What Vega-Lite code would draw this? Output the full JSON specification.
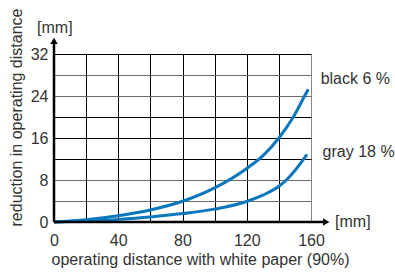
{
  "$schema": "https://vega.github.io/schema/vega-lite/v6.json",
  "width": 257,
  "height": 168,
  "autosize": {"type": "none"},
  "padding": {"left": 54, "top": 54, "right": 84, "bottom": 50},
  "background": "white",
  "config": {
    "view": {"stroke": null},
    "font": "Liberation Sans"
  },
  "resolve": {"axis": {"x": "independent", "y": "independent"}},
  "datasets": {
    "curves": [
      {"series": "black 6 %", "x": 0, "y": 0},
      {"series": "black 6 %", "x": 20, "y": 0.45},
      {"series": "black 6 %", "x": 40, "y": 1.2},
      {"series": "black 6 %", "x": 60, "y": 2.3},
      {"series": "black 6 %", "x": 80, "y": 3.95},
      {"series": "black 6 %", "x": 100, "y": 6.5},
      {"series": "black 6 %", "x": 120, "y": 10.2},
      {"series": "black 6 %", "x": 130, "y": 12.6},
      {"series": "black 6 %", "x": 140, "y": 16},
      {"series": "black 6 %", "x": 149, "y": 20},
      {"series": "black 6 %", "x": 155.5, "y": 23.7},
      {"series": "black 6 %", "x": 158.3, "y": 25.3},
      {"series": "gray 18 %", "x": 0, "y": 0},
      {"series": "gray 18 %", "x": 20, "y": 0.2},
      {"series": "gray 18 %", "x": 40, "y": 0.5},
      {"series": "gray 18 %", "x": 60, "y": 0.95},
      {"series": "gray 18 %", "x": 80, "y": 1.6},
      {"series": "gray 18 %", "x": 100, "y": 2.45},
      {"series": "gray 18 %", "x": 120, "y": 3.9},
      {"series": "gray 18 %", "x": 130, "y": 5.1},
      {"series": "gray 18 %", "x": 140, "y": 6.8},
      {"series": "gray 18 %", "x": 145, "y": 8.1},
      {"series": "gray 18 %", "x": 150, "y": 9.8},
      {"series": "gray 18 %", "x": 154, "y": 11.4},
      {"series": "gray 18 %", "x": 157.5, "y": 12.9}
    ],
    "sidelabels": [
      {"label": "black 6 %", "x": 166, "y": 27.3},
      {"label": "gray 18 %", "x": 167.2, "y": 13.4},
      {"label": "[mm]", "x": 175, "y": 0}
    ],
    "toplabels": [
      {"label": "[mm]", "x": 0.5, "y": 37}
    ],
    "axislines": [
      {"x": 0, "y": 0, "x2": 0, "y2": 34.3},
      {"x": 0, "y": 0, "x2": 168, "y2": 0}
    ],
    "heads": [
      {"x": 0, "y": 34.5, "shape": "triangle-up"},
      {"x": 169.5, "y": 0, "shape": "triangle-right"}
    ]
  },
  "layer": [
    {
      "data": {"name": "curves"},
      "mark": {"type": "line", "interpolate": "monotone", "color": "#0b77bd", "strokeWidth": 3},
      "encoding": {
        "x": {
          "field": "x", "type": "quantitative",
          "scale": {"domain": [0, 160], "nice": false, "zero": false},
          "axis": {
            "orient": "bottom",
            "values": [0, 20, 40, 60, 80, 100, 120, 140, 160],
            "labels": false, "domain": false, "ticks": false, "title": null,
            "grid": true, "gridColor": {"condition": {"test": "datum.value === 160", "value": "#888888"}, "value": "#000000"}, "gridWidth": 1, "gridOpacity": 1
          }
        },
        "y": {
          "field": "y", "type": "quantitative",
          "scale": {"domain": [0, 32], "nice": false, "zero": false},
          "axis": {
            "orient": "left",
            "values": [0, 4, 8, 12, 16, 20, 24, 28, 32],
            "labels": false, "domain": false, "ticks": false, "title": null,
            "grid": true, "gridColor": {"condition": {"test": "indexof([4, 8, 24, 28], datum.value) >= 0", "value": "#6a6a6a"}, "value": "#000000"}, "gridWidth": 1, "gridOpacity": 1
          }
        },
        "detail": {"field": "series"}
      }
    },
    {
      "data": {"name": "axislines"},
      "mark": {"type": "rule", "color": "#000000", "strokeWidth": 2.5},
      "encoding": {
        "x": {
          "field": "x", "type": "quantitative",
          "axis": {
            "orient": "bottom",
            "values": [0, 40, 80, 120, 160],
            "domain": false, "ticks": false, "grid": false, "labelFlush": false,
            "labelPadding": 10, "labelFontSize": 16, "labelColor": "#333333", "labelFont": "Liberation Sans",
            "title": "operating distance with white paper (90%)",
            "titleFontSize": 16, "titleFontWeight": "normal", "titleColor": "#333333", "titleFont": "Liberation Sans",
            "titleX": 146, "titleY": 37, "titleAlign": "center", "titleBaseline": "middle"
          }
        },
        "y": {
          "field": "y", "type": "quantitative",
          "axis": {
            "orient": "left",
            "values": [0, 8, 16, 24, 32],
            "domain": false, "ticks": false, "grid": false, "labelFlush": false,
            "labelPadding": 6, "labelFontSize": 16, "labelColor": "#333333", "labelFont": "Liberation Sans",
            "title": "reduction in operating distance",
            "titleFontSize": 16, "titleFontWeight": "normal", "titleColor": "#333333", "titleFont": "Liberation Sans",
            "titleAngle": -90, "titleX": -38, "titleY": 63, "titleAlign": "center", "titleBaseline": "middle"
          }
        },
        "x2": {"field": "x2"},
        "y2": {"field": "y2"}
      }
    },
    {
      "data": {"name": "heads"},
      "mark": {"type": "point", "filled": true, "color": "#000000", "opacity": 1, "size": 55},
      "encoding": {
        "x": {"field": "x", "type": "quantitative", "axis": null},
        "y": {"field": "y", "type": "quantitative", "axis": null},
        "shape": {"field": "shape", "type": "nominal", "scale": null}
      }
    },
    {
      "data": {"name": "sidelabels"},
      "mark": {"type": "text", "align": "left", "baseline": "middle", "fontSize": 16, "color": "#333333", "font": "Liberation Sans"},
      "encoding": {
        "x": {"field": "x", "type": "quantitative", "axis": null},
        "y": {"field": "y", "type": "quantitative", "axis": null},
        "text": {"field": "label"}
      }
    },
    {
      "data": {"name": "toplabels"},
      "mark": {"type": "text", "align": "center", "baseline": "middle", "fontSize": 16, "color": "#333333", "font": "Liberation Sans"},
      "encoding": {
        "x": {"field": "x", "type": "quantitative", "axis": null},
        "y": {"field": "y", "type": "quantitative", "axis": null},
        "text": {"field": "label"}
      }
    }
  ]
}
